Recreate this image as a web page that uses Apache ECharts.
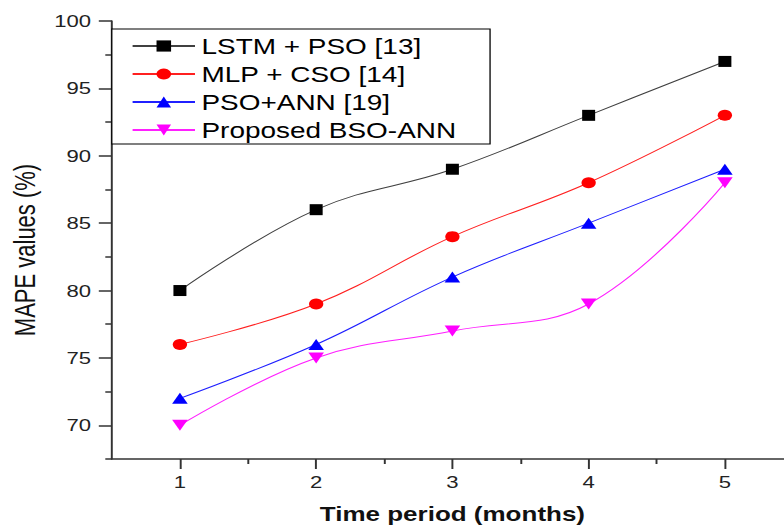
<!DOCTYPE html>
<html>
<head>
<meta charset="utf-8">
<script src="https://cdn.jsdelivr.net/npm/echarts@6/dist/echarts.min.js"></script>
<style>
html,body{margin:0;padding:0;overflow:hidden;background:#fff;width:784px;height:529px;}
#chart{width:630px;height:529px;transform:scaleX(1.3);transform-origin:0 0;}
</style>
</head>
<body>
<div id="chart"></div>
<script>
const months = [1, 2, 3, 4, 5];
const lstmPso = [80, 86, 89, 93, 97];
const mlpCso = [76, 79, 84, 88, 93];
const psoAnn = [72, 76, 81, 85, 89];
const bsoAnn = [70, 75, 77, 79, 88];
const seriesNames = ['LSTM + PSO [13]', 'MLP + CSO [14]', 'PSO+ANN [19]', 'Proposed BSO-ANN'];
const xTicks = [1, 2, 3, 4, 5];
const xMinorTicks = [1.5, 2.5, 3.5, 4.5];
const yTicks = [70, 75, 80, 85, 90, 95, 100];
const yMinorTicks = [67.5, 72.5, 77.5, 82.5, 87.5, 92.5, 97.5];

const font = 'Liberation Sans, Arial, sans-serif';
const pair = arr => months.map((m, i) => [m, arr[i]]);

const chart = echarts.init(document.getElementById('chart'), null, {renderer: 'svg'});
const mk = (name, data, color, lineColor, symbol, size, rotate) => ({
  name, type: 'line', data: pair(data), smooth: 0.4,
  symbol, symbolSize: size, symbolRotate: rotate || 0, showSymbol: true,
  itemStyle: {color}, lineStyle: {color: lineColor, width: 1},
  xAxisIndex: 0, yAxisIndex: 0, z: 3
});

chart.setOption({
  animation: false,
  backgroundColor: '#fff',
  grid: {left: 86, right: 20, top: 21, bottom: 69, containLabel: false},
  legend: {
    orient: 'vertical', left: 86, top: 29,
    padding: [6, 26, 3, 15], itemGap: 6, itemWidth: 48, itemHeight: 14,
    borderColor: '#000', borderWidth: 1, backgroundColor: '#fff',
    textStyle: {fontFamily: font, fontSize: 21.5, color: '#000'},
    data: seriesNames
  },
  xAxis: [{
    type: 'value', min: 0.5, max: 5.5, position: 'bottom',
    name: 'Time period (months)', nameLocation: 'middle', nameGap: 45,
    nameTextStyle: {fontFamily: font, fontSize: 20, fontWeight: 'bold', color: '#111'},
    axisLine: {show: true, lineStyle: {color: '#333', width: 1.5}},
    axisTick: {show: true, inside: false, length: 10, customValues: xTicks, lineStyle: {color: '#333', width: 1.5}},
    axisLabel: {customValues: xTicks, margin: 14, fontFamily: font, fontSize: 17, color: '#222'},
    splitLine: {show: false}
  }, {
    type: 'value', min: 0.5, max: 5.5, position: 'bottom',
    axisLine: {show: false},
    axisTick: {show: true, length: 5, customValues: xMinorTicks, lineStyle: {color: '#333', width: 1.5}},
    axisLabel: {show: false},
    splitLine: {show: false}
  }],
  yAxis: [{
    type: 'value', min: 67.5, max: 100, position: 'left',
    name: 'MAPE values (%)', nameLocation: 'middle', nameGap: 56, nameRotate: 90,
    nameTextStyle: {fontFamily: font, fontSize: 22, color: '#111', padding: [0, 20, 0, 0]},
    axisLine: {show: true, lineStyle: {color: '#333', width: 1.5}},
    axisTick: {show: true, length: 10, customValues: yTicks, lineStyle: {color: '#333', width: 1.5}},
    axisLabel: {customValues: yTicks, margin: 16, fontFamily: font, fontSize: 17, color: '#222'},
    splitLine: {show: false}
  }, {
    type: 'value', min: 67.5, max: 100, position: 'left',
    axisLine: {show: false},
    axisTick: {show: true, length: 5, customValues: yMinorTicks, lineStyle: {color: '#333', width: 1.5}},
    axisLabel: {show: false},
    splitLine: {show: false}
  }],
  series: [
    mk(seriesNames[0], lstmPso, '#000', '#404040', 'rect', [10, 11]),
    mk(seriesNames[1], mlpCso, '#ff0000', '#ff2020', 'circle', [11, 11]),
    mk(seriesNames[2], psoAnn, '#0000ff', '#2020ff', 'triangle', [12, 11]),
    mk(seriesNames[3], bsoAnn, '#ff00ff', '#ff20ff', 'triangle', [12, 11], 180)
  ]
});
</script>
</body>
</html>
